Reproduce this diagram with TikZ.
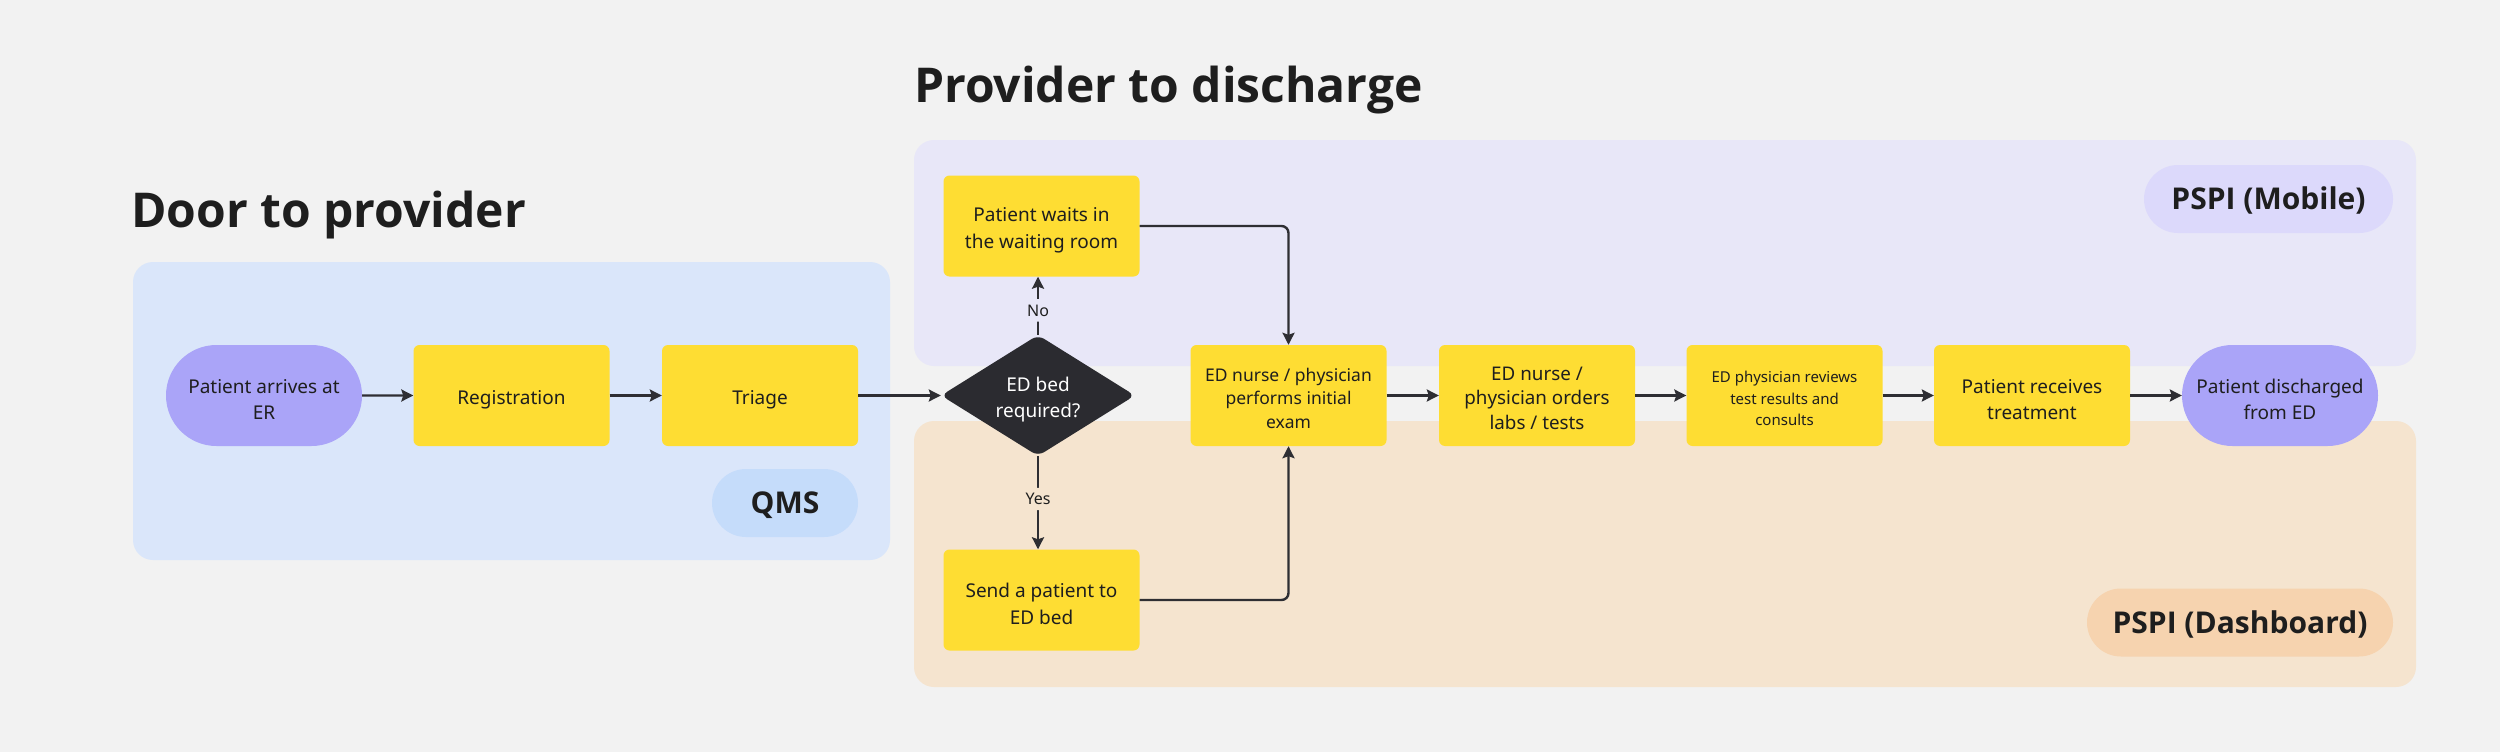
\documentclass[tikz,border=0pt]{standalone}
\usepackage{fontspec}
\setmainfont{Noto Sans}
\newfontfamily\headfont{Open Sans}
\usetikzlibrary{arrows.meta,shapes.geometric,shapes.misc}
\definecolor{bg}{HTML}{F2F2F2}
\definecolor{bluereg}{HTML}{DAE6FA}
\definecolor{bluepill}{HTML}{C5DCFA}
\definecolor{purpreg}{HTML}{E8E7F8}
\definecolor{purppill}{HTML}{DCD9FB}
\definecolor{orgreg}{HTML}{F5E4CF}
\definecolor{orgpill}{HTML}{F6D3AF}
\definecolor{yel}{HTML}{FEDD33}
\definecolor{term}{HTML}{AAA4F8}
\definecolor{dark}{HTML}{2B2B30}
\definecolor{txt}{HTML}{1E1E1E}
\definecolor{arr}{HTML}{2E2E33}
\begin{document}
\begin{tikzpicture}[x=1pt,y=-1pt,
  region/.style={rounded corners=20pt},
  procbox/.style={rectangle, fill=yel, rounded corners=6pt, minimum width=196pt,
    minimum height=101pt, inner sep=0pt},
  termbox/.style={rounded rectangle, fill=term, minimum width=196pt,
    minimum height=101pt, inner sep=0pt},
  decbox/.style={diamond, fill=dark, rounded corners=7pt, aspect=1.6,
    minimum width=194pt, minimum height=121pt, inner sep=0pt},
  btext/.style={align=center, text=txt, inner sep=0pt,
    font=\fontsize{19}{26.7}\selectfont},
  stext/.style={btext, font=\fontsize{15}{21.3}\selectfont},
  wtext/.style={btext, text=white},
  pill/.style={rounded rectangle, minimum height=68pt, inner sep=0pt, text=txt,
    text height=21.5pt, text depth=0pt, font=\headfont\fontsize{30}{34}\bfseries},
  title/.style={anchor=base west, text=txt, font=\headfont\fontsize{48}{58}\bfseries, inner sep=0pt},
  flow/.style={draw=arr, line width=2.4pt, rounded corners=7pt,
    -{Stealth[length=12pt,width=12pt,inset=2pt]}},
  lbl/.style={font=\fontsize{16}{19}\selectfont, text=txt, inner xsep=2pt,
    inner ysep=5.5pt, text height=11.4pt, text depth=0pt}
]
\useasboundingbox (0,0) rectangle (2500,752);
\fill[bg] (0,0) rectangle (2500,752);

% regions
\fill[bluereg, region] (133,262) rectangle (890,560);
\fill[purpreg, region] (914,140) rectangle (2416,366);
\fill[orgreg, region] (914,421) rectangle (2416,687);

% titles
\node[title] (t1) at (131,227) {Door to provider};
\node[title] (t2) at (914,102) {Provider to discharge};

% pills
\node[pill, fill=bluepill, minimum width=146pt] (qms) at (785,503) {QMS};
\node[pill, fill=purppill, minimum width=249pt] (mob) at (2268.5,199) {PSPI (Mobile)};
\node[pill, fill=orgpill, minimum width=306pt] (dash) at (2240,622.5) {PSPI (Dashboard)};

% shapes
\node[termbox] (arrive) at (264,395.5) {};
\node[procbox] (reg) at (511.5,395.5) {};
\node[procbox] (tri) at (760,395.5) {};
\node[decbox] (dec) at (1038,395.5) {};
\node[procbox] (wait) at (1041.5,226) {};
\node[procbox] (send) at (1041.5,600) {};
\node[procbox] (perf) at (1288.5,395.5) {};
\node[procbox] (ord) at (1537,395.5) {};
\node[procbox] (rev) at (1784.5,395.5) {};
\node[procbox] (rec) at (2032,395.5) {};
\node[termbox] (dis) at (2280,395.5) {};

% texts
\node[btext] (arriveT) at ([yshift=-4pt]arrive.center) {Patient arrives at\\ER};
\node[btext] (regT) at ([yshift=-4pt]reg.center) {Registration};
\node[btext] (triT) at ([yshift=-4pt]tri.center) {Triage};
\node[wtext] (decT) at ([yshift=-4pt]dec.center) {ED bed\\required?};
\node[btext] (waitT) at ([yshift=-4pt]wait.center) {Patient waits in\\the waiting room};
\node[btext] (sendT) at ([yshift=-4pt]send.center) {Send a patient to\\ED bed};
\node[btext, font=\fontsize{17.5}{23.5}\selectfont] (perfT) at ([yshift=-2.5pt]perf.center) {ED nurse / physician\\performs initial\\exam};
\node[btext, font=\fontsize{18.8}{24.5}\selectfont] (ordT) at ([yshift=-2.5pt]ord.center) {ED nurse /\\physician orders\\labs / tests};
\node[stext] (revT) at ([yshift=-3pt]rev.center) {ED physician reviews\\test results and\\consults};
\node[btext] (recT) at ([yshift=-4pt]rec.center) {Patient receives\\treatment};
\node[btext] (disT) at ([yshift=-4pt]dis.center) {Patient discharged\\from ED};

% connectors
\draw[flow] (arrive) -- (reg);
\draw[flow] (reg) -- (tri);
\draw[flow] (tri) -- (dec);
\draw[flow] (dec.north) -- node[lbl, fill=purpreg, pos=0.42] (no) {No} (dec.north |- wait.south);
\draw[flow] (dec.south) -- node[lbl, fill=orgreg, pos=0.46] (yes) {Yes} (dec.south |- send.north);
\draw[flow] (wait.east) -| (perf.north);
\draw[flow] (send.east) -| (perf.south);
\draw[flow] (perf) -- (ord);
\draw[flow] (ord) -- (rev);
\draw[flow] (rev) -- (rec);
\draw[flow] (rec) -- (dis);
\end{tikzpicture}
\end{document}
